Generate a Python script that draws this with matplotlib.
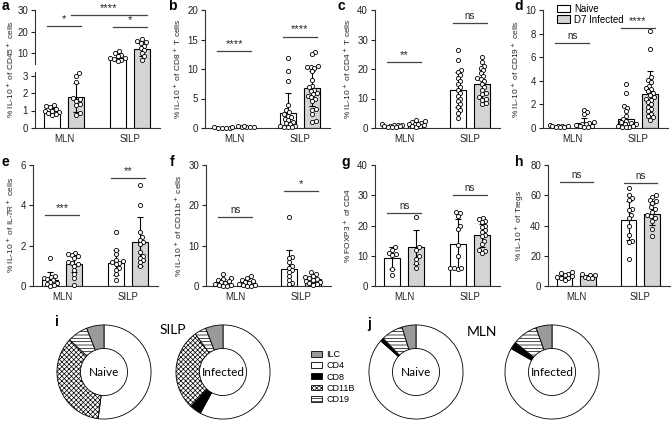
import numpy as np
import matplotlib
matplotlib.use("Agg")
import matplotlib.pyplot as plt
from matplotlib.patches import Patch

plt.rcParams['font.family'] = ['Liberation Sans', 'DejaVu Sans']
plt.rcParams['hatch.linewidth'] = 0.5

W, H = 672, 421

groups = ["MLN", "SILP"]
conditions = ["Naive", "D7 Infected"]

# ---- panel a (broken axis) ----
a_means = [0.95, 1.75, 8.0, 12.0]
a_sds = [0.17, 0.85, 1.4, 3.3]
a_mln_naive = [1.3, 1.25, 1.2, 1.1, 1.0, 0.95, 0.9, 0.85, 0.8, 0.75]
a_mln_inf = [3.15, 3.0, 2.65, 1.7, 1.55, 1.4, 1.3, 0.85, 0.75, 1.65]
a_silp_naive = [11.0, 10.0, 9.0, 8.5, 8.0, 7.8, 7.2, 6.8, 6.3]
a_silp_inf = [16.5, 15.5, 15.0, 14.5, 13.5, 12.5, 11.5, 10.0, 8.5, 7.0]
a_sig = [(0, 1, 22.6, "*"), (1, 3, 27.7, "****"), (2, 3, 22.1, "*")]

# ---- panel b ----
b_means = [0.05, 0.2, 2.6, 6.7]
b_sds = [0.03, 0.08, 3.3, 2.9]
b_mln_naive = [0.1, 0.05, 0.05, 0.0, 0.05, 0.1]
b_mln_inf = [0.3, 0.25, 0.2, 0.15, 0.2, 0.3]
b_silp_naive = [11.9, 9.6, 8.0, 3.9, 3.0, 2.7, 2.4, 2.1, 1.8, 1.6, 1.3, 1.0,
                0.8, 0.6, 0.4, 0.3, 0.2, 0.1, 0.1]
b_silp_inf = [12.9, 12.6, 10.5, 10.4, 10.4, 10.2, 9.7, 8.2, 7.2, 6.9, 6.5, 6.3,
              6.0, 5.8, 5.5, 5.2, 4.9, 4.5, 3.3, 3.1, 2.4, 1.2, 1.0]
b_sig = [(0, 1, 13.0, "****"), (2, 3, 15.5, "****")]

# ---- panel c ----
c_means = [0.8, 1.5, 13.0, 14.8]
c_sds = [0.3, 0.7, 6.0, 4.8]
c_mln_naive = [1.2, 1.1, 1.0, 0.9, 0.8, 0.7, 0.6, 0.5, 0.5, 0.4]
c_mln_inf = [2.8, 2.5, 2.2, 1.8, 1.5, 1.2, 1.0, 0.8, 0.6, 0.5, 1.4]
c_silp_naive = [26.5, 23.0, 19.5, 19.0, 18.0, 17.0, 16.0, 15.0, 14.0, 13.0, 12.0,
                11.0, 10.0, 9.0, 8.0, 7.0, 6.0, 5.0, 3.5]
c_silp_inf = [24.0, 22.5, 21.0, 20.5, 19.5, 18.5, 17.5, 17.0, 16.5, 16.0, 15.0,
              14.0, 13.0, 12.0, 11.5, 10.5, 10.0, 9.5, 8.5, 8.0]
c_sig = [(0, 1, 22.4, "**"), (2, 3, 35.6, "ns")]

# ---- panel d ----
d_means = [0.15, 0.4, 0.8, 2.9]
d_sds = [0.06, 0.45, 1.0, 1.9]
d_mln_naive = [0.25, 0.2, 0.2, 0.15, 0.1, 0.1, 0.05, 0.15]
d_mln_inf = [1.55, 1.35, 1.15, 0.5, 0.4, 0.35, 0.3, 0.25, 0.2, 0.15, 0.1, 0.1]
d_silp_naive = [3.7, 3.0, 1.9, 1.7, 1.4, 1.0, 0.8, 0.6, 0.5, 0.4, 0.35, 0.3,
                0.2, 0.15, 0.1, 0.1, 0.05]
d_silp_inf = [8.2, 6.7, 4.3, 4.1, 3.9, 3.6, 3.4, 3.3, 3.1, 3.0, 2.8, 2.6, 2.5,
              2.4, 2.2, 2.0, 1.8, 1.6, 1.4, 1.2, 1.0, 0.9, 0.7]
d_sig = [(0, 1, 7.2, "ns"), (2, 3, 8.5, "****")]

# ---- panel e ----
e_means = [0.3, 1.1, 1.15, 2.2]
e_sds = [0.38, 0.42, 0.62, 1.2]
e_mln_naive = [1.4, 0.5, 0.45, 0.4, 0.35, 0.3, 0.2, 0.15, 0.1, 0.05, 0.0]
e_mln_inf = [1.65, 1.6, 1.55, 1.5, 1.4, 1.2, 1.15, 1.1, 1.0, 0.8, 0.6, 0.4, 0.05]
e_silp_naive = [2.7, 1.8, 1.6, 1.3, 1.25, 1.2, 1.15, 1.1, 0.9, 0.8, 0.6, 0.3]
e_silp_inf = [5.0, 4.0, 2.7, 2.45, 2.3, 2.2, 2.1, 1.7, 1.5, 1.4, 1.3, 1.2, 1.0]
e_sig = [(0, 1, 3.5, "***"), (2, 3, 5.35, "**")]

# ---- panel f ----
f_means = [1.0, 1.0, 4.3, 1.8]
f_sds = [0.8, 0.7, 4.6, 0.8]
f_mln_naive = [3.0, 2.0, 1.8, 1.5, 1.2, 1.0, 0.8, 0.5, 0.3, 0.2, 0.1, 0.1]
f_mln_inf = [2.5, 2.0, 1.5, 1.2, 1.0, 0.8, 0.5, 0.3, 0.2, 0.1, 0.1]
f_silp_naive = [17.0, 7.2, 7.0, 6.0, 5.0, 4.5, 4.0, 3.5, 2.5, 1.5, 0.8, 0.5]
f_silp_inf = [3.4, 3.0, 2.5, 2.2, 2.0, 1.8, 1.5, 1.2, 1.0, 0.7, 0.5, 0.3]
f_sig = [(0, 1, 17.0, "ns"), (2, 3, 23.6, "*")]

# ---- panel g ----
g_means = [9.2, 12.9, 13.8, 16.7]
g_sds = [3.7, 5.5, 8.2, 3.7]
g_mln_naive = [13.0, 12.0, 11.0, 10.5, 10.3, 5.5, 3.5]
g_mln_inf = [22.8, 13.0, 12.0, 10.0, 9.0, 7.5, 6.0]
g_silp_naive = [24.5, 24.0, 23.0, 20.0, 19.0, 13.5, 10.0, 6.0, 6.0, 5.5, 5.8]
g_silp_inf = [22.5, 22.0, 21.5, 21.0, 20.0, 19.5, 18.5, 18.0, 17.0, 16.5, 15.0,
              14.0, 12.0, 11.5, 11.0]
g_sig = [(0, 1, 24.0, "ns"), (2, 3, 30.0, "ns")]

# ---- panel h ----
h_means = [6.5, 6.3, 43.5, 47.5]
h_sds = [1.6, 1.2, 13.0, 7.0]
h_mln_naive = [9.5, 8.5, 8.0, 7.0, 6.5, 6.0, 5.5, 5.0, 4.0]
h_mln_inf = [8.0, 7.5, 7.0, 6.0, 5.5, 5.0]
h_silp_naive = [65, 60, 58, 57, 51, 50, 47, 45, 40, 34, 30, 29, 18]
h_silp_inf = [60, 59, 57, 56, 55, 52, 51, 49, 47, 46, 45, 43, 38, 33]
h_sig = [(0, 1, 68.5, "ns"), (2, 3, 68.0, "ns")]

# ---- donuts (i, j) ----
pie_labels = ["CD4", "CD8", "CD11B", "CD19", "ILC"]
silp_naive_pct = [52, 0, 35, 7, 6]
silp_inf_pct = [58, 4, 28, 4, 6]
mln_naive_pct = [86.5, 1.2, 0, 7.5, 4.8]
mln_inf_pct = [83.3, 2.2, 0.3, 8.7, 5.5]
legend_order = ["ILC", "CD4", "CD8", "CD11B", "CD19"]

# styling
xpos = [0, 1, 2.7, 3.7]
bar_w = 0.66
fills = ["white", "#d4d4d4", "white", "#d4d4d4"]
pie_colors = {"CD4": "white", "CD8": "black", "CD11B": "white", "CD19": "white", "ILC": "#9a9a9a"}
pie_hatch = {"CD4": None, "CD8": None, "CD11B": "xxxxxxx", "CD19": "-----", "ILC": None}
tc = "#222222"

fig = plt.figure(figsize=(W / 100, H / 100), dpi=100)


def add_ax(left, top, width, height):
    return fig.add_axes([left / W, 1 - (top + height) / H, width / W, height / H])


def swarm(ax, xc, vals, d=4.0, maxw=10.0):
    vals = np.asarray(vals, dtype=float)
    pts = ax.transData.transform(np.column_stack([np.full(len(vals), xc), vals]))
    ys = pts[:, 1]
    offs = np.zeros(len(vals))
    placed = []
    for i in np.argsort(ys):
        y = ys[i]
        cands = [0.0]
        for px, py in placed:
            dy = y - py
            if abs(dy) < d:
                dx = np.sqrt(d * d - dy * dy)
                cands += [px + dx, px - dx]
        cands.sort(key=abs)
        chosen = None
        for c in cands:
            if abs(c) > maxw:
                continue
            if all((c - px) ** 2 + (y - py) ** 2 >= d * d - 1e-6 for px, py in placed):
                chosen = c
                break
        if chosen is None:
            grid = np.linspace(-maxw, maxw, 21)
            chosen = max(grid, key=lambda g: min((g - px) ** 2 + (y - py) ** 2 for px, py in placed))
        offs[i] = chosen
        placed.append((chosen, y))
    back = ax.transData.inverted().transform(np.column_stack([pts[:, 0] + offs, ys]))
    return back[:, 0]


def style_ax(ax, ylim, yticks, xlabels=True):
    ax.set_xlim(-0.7, 4.45)
    ax.set_ylim(*ylim)
    ax.set_yticks(yticks)
    for s in ["top", "right"]:
        ax.spines[s].set_visible(False)
    for s in ["left", "bottom"]:
        ax.spines[s].set_linewidth(0.8)
        ax.spines[s].set_color("#333333")
    ax.tick_params(axis="y", labelsize=7, length=3, width=0.8, pad=2, colors=tc)
    if xlabels:
        ax.set_xticks([0.5, 3.2])
        ax.set_xticklabels(groups)
        ax.tick_params(axis="x", labelsize=7, length=0, pad=4, colors=tc)
    else:
        ax.set_xticks([])


def draw_bars(ax, means, sds, pts, idx=range(4), bottom=0, clip=True):
    for i in idx:
        ax.bar(xpos[i], means[i] - bottom, width=bar_w, bottom=bottom, color=fills[i],
               edgecolor="black", linewidth=0.8, zorder=1, clip_on=clip)
        ax.errorbar(xpos[i], means[i], yerr=sds[i], color="black", capsize=2.5,
                    elinewidth=0.8, capthick=0.8, zorder=2)
        xs = swarm(ax, xpos[i], pts[i])
        ax.scatter(xs, pts[i], s=9, facecolor="white", edgecolor="black",
                   linewidths=0.6, zorder=3, clip_on=False)


def draw_sig(ax, sigs):
    for i1, i2, y, txt in sigs:
        ax.plot([xpos[i1] - 0.2, xpos[i2] + 0.2], [y, y], color="#444444", lw=0.9,
                clip_on=False, zorder=4)
        ax.annotate(txt, xy=((xpos[i1] + xpos[i2]) / 2, y), xytext=(0, 1.5),
                    textcoords="offset points", ha="center", va="bottom",
                    fontsize=7 if txt == "ns" else 8, color="#222222",
                    annotation_clip=False)


# ---- panel a : broken axis ----
ax_up = add_ax(35, 10, 125, 54)
ax_lo = add_ax(35, 72, 125, 56)
style_ax(ax_up, (5, 30), [10, 20, 30], xlabels=False)
ax_up.spines["bottom"].set_visible(False)
style_ax(ax_lo, (0, 3.2), [0, 1, 2, 3])
a_pts = [a_mln_naive, a_mln_inf, a_silp_naive, a_silp_inf]
# upper part of SILP bars reaches down into the gap, the lower axes covers the rest
gap_bottom = ax_up.transData.inverted().transform((0, ax_lo.transAxes.transform((0, 1))[1] - 2))[1]
draw_bars(ax_up, a_means, a_sds, a_pts, idx=[2, 3], bottom=gap_bottom, clip=False)
draw_bars(ax_lo, a_means, a_sds, a_pts, idx=[0, 1])
for i in [2, 3]:
    ax_lo.bar(xpos[i], a_means[i], width=bar_w, color=fills[i], edgecolor="black",
              linewidth=0.8, zorder=1)
draw_sig(ax_up, a_sig)
fig.text(10 / W, 1 - 69 / H, "% IL-10$^+$ of CD45$^+$ cells", rotation=90,
         ha="center", va="center", fontsize=6, color=tc)

panels = [
    ("b", (205, 10, 125, 118), (0, 20), [0, 5, 10, 15, 20],
     [b_mln_naive, b_mln_inf, b_silp_naive, b_silp_inf], b_means, b_sds, b_sig,
     "% IL-10$^+$ of CD8$^+$ T cells"),
    ("c", (375, 10, 125, 118), (0, 40), [0, 10, 20, 30, 40],
     [c_mln_naive, c_mln_inf, c_silp_naive, c_silp_inf], c_means, c_sds, c_sig,
     "% IL-10$^+$ of CD4$^+$ T cells"),
    ("d", (543, 10, 125, 118), (0, 10), [0, 2, 4, 6, 8, 10],
     [d_mln_naive, d_mln_inf, d_silp_naive, d_silp_inf], d_means, d_sds, d_sig,
     "% IL-10$^+$ of CD19$^+$ cells"),
    ("e", (33, 165, 125, 121), (0, 6), [0, 2, 4, 6],
     [e_mln_naive, e_mln_inf, e_silp_naive, e_silp_inf], e_means, e_sds, e_sig,
     "% IL-10$^+$ of IL-7R$^+$ cells"),
    ("f", (206, 165, 125, 121), (0, 30), [0, 10, 20, 30],
     [f_mln_naive, f_mln_inf, f_silp_naive, f_silp_inf], f_means, f_sds, f_sig,
     "% IL-10$^+$ of CD11b$^+$ cells"),
    ("g", (375, 165, 125, 121), (0, 40), [0, 10, 20, 30, 40],
     [g_mln_naive, g_mln_inf, g_silp_naive, g_silp_inf], g_means, g_sds, g_sig,
     "% FOXP3$^+$ of CD4"),
    ("h", (548, 165, 122, 121), (0, 80), [0, 20, 40, 60, 80],
     [h_mln_naive, h_mln_inf, h_silp_naive, h_silp_inf], h_means, h_sds, h_sig,
     "% IL-10$^+$ of Tregs"),
]

axes = {}
for name, box, ylim, yticks, pts, means, sds, sigs, ylabel in panels:
    ax = add_ax(*box)
    style_ax(ax, ylim, yticks)
    draw_bars(ax, means, sds, pts)
    draw_sig(ax, sigs)
    ax.set_ylabel(ylabel, fontsize=6, color=tc, labelpad=3)
    axes[name] = ax

axes["d"].legend(handles=[Patch(facecolor=fills[0], edgecolor="black", linewidth=0.8),
                          Patch(facecolor=fills[1], edgecolor="black", linewidth=0.8)],
                 labels=conditions, loc="upper left", bbox_to_anchor=(0.11, 1.05),
                 frameon=False, fontsize=7, handlelength=1.4, handleheight=0.8,
                 labelspacing=0.05, handletextpad=0.4, borderpad=0, borderaxespad=0)

# panel letters
letters = [("a", 2, 10), ("b", 168, 10), ("c", 337, 10), ("d", 514, 10),
           ("e", 2, 166), ("f", 170, 166), ("g", 341, 166), ("h", 515, 166),
           ("i", 55, 326), ("j", 367, 328)]
for t, x, y in letters:
    fig.text(x / W, 1 - y / H, t, fontsize=10, fontweight="bold", ha="left", va="baseline")


# ---- donuts ----
def draw_donut(cx, cy, vals, label):
    ax = add_ax(cx - 48, cy - 48, 96, 96)
    ax.pie(vals, colors=[pie_colors[k] for k in pie_labels],
           hatch=[pie_hatch[k] for k in pie_labels], startangle=90, counterclock=False,
           radius=1, wedgeprops=dict(width=0.5, edgecolor="black", linewidth=0.6))
    ax.text(0, 0, label, ha="center", va="center", fontsize=8.5, family=["Lato", "DejaVu Sans"])
    ax.set_xlim(-1.02, 1.02)
    ax.set_ylim(-1.02, 1.02)
    ax.set_aspect("equal")


draw_donut(104, 372, silp_naive_pct, "Naive")
draw_donut(223, 372, silp_inf_pct, "Infected")
draw_donut(416, 372, mln_naive_pct, "Naive")
draw_donut(552, 372, mln_inf_pct, "Infected")
fig.text(173 / W, 1 - 330 / H, "SILP", ha="center", va="center", fontsize=10,
         family=["Lato", "DejaVu Sans"])
fig.text(482 / W, 1 - 332 / H, "MLN", ha="center", va="center", fontsize=10,
         family=["Lato", "DejaVu Sans"])

fig.legend(handles=[Patch(facecolor=pie_colors[k], hatch=pie_hatch[k], edgecolor="black",
                          linewidth=0.6) for k in legend_order],
           labels=legend_order, loc="upper left", bbox_to_anchor=(311 / W, 1 - 350 / H),
           frameon=False, fontsize=6.5, handlelength=1.2, handleheight=0.6,
           labelspacing=0.25, handletextpad=0.5, borderpad=0, borderaxespad=0)

fig.savefig("out.png", dpi=100, facecolor="white")
